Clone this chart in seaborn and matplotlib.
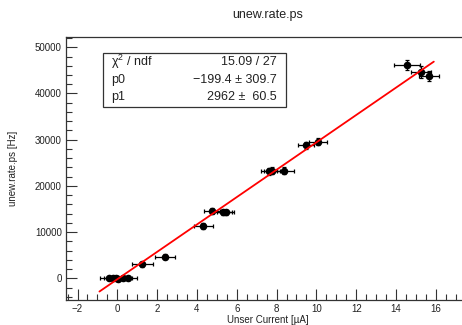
import matplotlib
matplotlib.use("Agg")
import matplotlib.pyplot as plt
import numpy as np
import pandas as pd
import seaborn as sns
from matplotlib.ticker import MultipleLocator, FixedLocator

# Measured rates versus Unser current
current = [-0.40, -0.22, -0.05, 0.05, 0.30, 0.52, 1.26, 2.40, 4.32, 4.77,
           5.33, 5.45, 7.60, 7.76, 8.39, 9.47, 10.09, 14.56, 15.25, 15.65]
rate = [-30, 0, 50, -60, 20, -40, 3030, 4680, 11320, 14570,
        14280, 14280, 23160, 23290, 23290, 28790, 29570, 46170, 44590, 43720]
current_err = [0.45, 0.45, 0.45, 0.45, 0.45, 0.45, 0.52, 0.52, 0.48, 0.40,
               0.45, 0.42, 0.40, 0.40, 0.50, 0.40, 0.45, 0.67, 0.50, 0.50]
rate_err = [400, 400, 400, 400, 400, 400, 500, 500, 600, 600,
            600, 600, 700, 700, 700, 800, 800, 1000, 1300, 1100]
x_ticks = [-2, 0, 2, 4, 6, 8, 10, 12, 14, 16]

# Linear fit result
p0, p0_err = -199.4, 309.7
p1, p1_err = 2962, 60.5
chi2, ndf = 15.09, 27
fit_range = [-0.9, 15.9]

df = pd.DataFrame({"current": current, "rate": rate})
fit_x = np.linspace(fit_range[0], fit_range[1], 50)
fit_df = pd.DataFrame({"current": fit_x, "rate": p0 + p1 * fit_x})

sns.set_style("white")
plt.rcParams["font.family"] = ["Liberation Sans", "DejaVu Sans"]
plt.rcParams["mathtext.fontset"] = "custom"
plt.rcParams["mathtext.rm"] = "Liberation Sans"
plt.rcParams["mathtext.it"] = "Liberation Sans:italic"

fig = plt.figure(figsize=(4.62, 3.25), dpi=100)
ax = fig.add_axes([66 / 462, 25 / 325, 412 / 462, 263 / 325])

ax.errorbar(current, rate, xerr=current_err, yerr=rate_err, fmt="none",
            ecolor="black", elinewidth=0.9, capsize=1.6, capthick=0.9, zorder=2)
sns.scatterplot(data=df, x="current", y="rate", ax=ax, color="black",
                s=30, edgecolor="black", linewidth=0, zorder=3)
sns.lineplot(data=fit_df, x="current", y="rate", ax=ax, color="#ff0000",
             linewidth=1.3, zorder=4)

ax.set_xlim(-2.58, 18.12)
ax.set_ylim(-4700, 52230)
ax.xaxis.set_major_locator(FixedLocator(x_ticks))
ax.xaxis.set_minor_locator(MultipleLocator(0.5))
ax.yaxis.set_major_locator(MultipleLocator(10000))
ax.yaxis.set_minor_locator(MultipleLocator(2000))
ax.tick_params(which="both", direction="in", colors="#333333",
               labelcolor="#222222", labelsize=7, width=0.8,
               bottom=True, left=True, top=False, right=False)
ax.tick_params(which="major", length=8, pad=3)
ax.tick_params(which="minor", length=4)
for s in ax.spines.values():
    s.set_color("#333333")
    s.set_linewidth(0.9)

ax.set_xlabel("Unser Current [µA]", fontsize=7, color="#222222")
ax.set_ylabel("unew.rate.ps [Hz]", fontsize=7, color="#222222")
ax.xaxis.set_label_coords((268 - 66) / 412, -(315 - 300) / 263)
ax.yaxis.set_label_coords(-(66 - 18) / 412, 0.5)

fig.text(268 / 462, 1 - 15 / 325, "unew.rate.ps", ha="center", va="center",
         fontsize=9, color="#222222")

# Fit statistics box
bx0, bx1, by0, by1 = 103 / 462, 286 / 462, 1 - 107 / 325, 1 - 53 / 325
fig.patches.append(plt.Rectangle((bx0, by0), bx1 - bx0, by1 - by0,
                                 transform=fig.transFigure, fill=True,
                                 facecolor="white", edgecolor="#333333",
                                 linewidth=0.9, zorder=5))
rows = [("χ$^2$ / ndf", f"{chi2:.2f} / {ndf}"),
        ("p0", f"\u2212{abs(p0):.1f} ± {p0_err:.1f}"),
        ("p1", f"{p1} ±  {p1_err:.1f}")]
row_y = [62, 80, 97]
for (lab, val), yy in zip(rows, row_y):
    fig.text(111 / 462, 1 - yy / 325, lab, ha="left", va="center",
             fontsize=9, color="#222222", zorder=6)
    fig.text(277 / 462, 1 - yy / 325, val, ha="right", va="center",
             fontsize=9, color="#222222", zorder=6)

fig.savefig("out.png", dpi=100)
